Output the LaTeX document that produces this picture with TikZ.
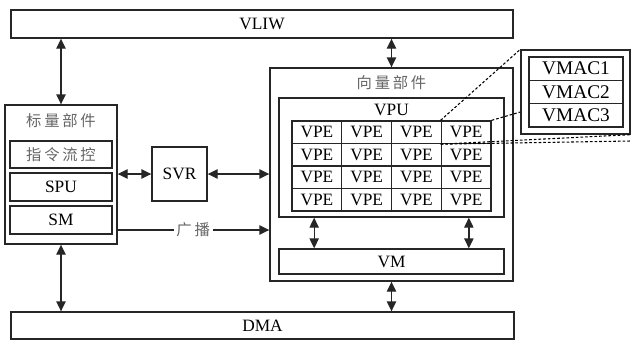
\documentclass[tikz,border=0pt]{standalone}
\usepackage{fontspec}
\setmainfont{Liberation Serif}
\newfontfamily\cjk[LetterSpace=18]{Noto Sans CJK SC}
\usetikzlibrary{arrows.meta}

\tikzset{
  blk/.style={draw=black!85, line width=1pt, inner sep=0pt,
    font={\fontsize{13}{15}\selectfont}},
  cnlabel/.style={text=black!60, inner sep=1pt,
    font={\cjk\fontsize{11.5}{13}\selectfont}},
  link/.style={{Triangle[length=7.5pt,width=7pt]}-{Triangle[length=7.5pt,width=7pt]},
    line width=1pt, draw=black!85},
  onelink/.style={-{Triangle[length=7.5pt,width=7pt]}, line width=1pt, draw=black!85},
  zoomline/.style={dash pattern=on 2pt off 1.5pt, line width=0.8pt}
}

\begin{document}
\begin{tikzpicture}[x=0.75pt, y=-0.75pt]

\useasboundingbox (0,0) rectangle (631,340);

% top and bottom bars
\node [blk, minimum width=376.5pt, minimum height=21pt] (vliw) at (262,24) {VLIW};
\node [blk, minimum width=377.25pt, minimum height=20.25pt] (dma) at (262.5,325.5) {DMA};

% scalar unit
\node [blk, minimum width=84pt, minimum height=104.25pt] (scalar) at (61,174.5) {};
\node [cnlabel] (scalar-title) at (61,121) {标量部件};
\node [blk, minimum width=76.5pt, minimum height=20.25pt, text=black!60,
font={\cjk\fontsize{11.5}{13}\selectfont}] (ctrl) at (61,154.5) {指令流控};
\node [blk, minimum width=76.5pt, minimum height=21pt] (spu) at (61,187) {SPU};
\node [blk, minimum width=76.5pt, minimum height=21pt] (sm) at (61,220) {SM};

\node [blk, minimum width=41.25pt, minimum height=40.5pt] (svr) at (179.5,174) {SVR};

% vector unit
\node [blk, minimum width=182.25pt, minimum height=159.75pt] (vector) at (391.5,174.5) {};
\node [cnlabel] (vector-title) at (391.5,83) {向量部件};
\node [blk, minimum width=168.75pt, minimum height=89.25pt] (vpu) at (391.5,157.5) {};
\node [inner sep=0pt, font={\fontsize{13}{15}\selectfont}] (vpu-title) at (391.5,110) {VPU};

\foreach \r in {1,...,4}
  \foreach \c in {1,...,4}
    \node [blk, minimum width=37.3pt, minimum height=16.9pt] (c-\r-\c)
      at ({292+49.75*(\c-0.5)},{121+22.5*(\r-0.5)}) {VPE};

\node [blk, minimum width=168.75pt, minimum height=18.75pt] (vm) at (391.5,261.5) {VM};

% zoomed VPE
\node [blk, minimum width=81.75pt, minimum height=63pt] (vmac) at (575.5,92) {};
\foreach \k in {1,2,3}
  \node [blk, minimum width=70.5pt, minimum height=17.5pt,
  font={\fontsize{14.5}{16}\selectfont}] (vmac-\k) at (576,{57+23.33*(\k-0.5)}) {VMAC\k};

\coordinate (cut) at (631,141);
\coordinate (bcast) at (117,230);

% connections
\draw [link] (vliw.south -| scalar.north) -- (scalar.north);
\draw [link] (vliw.south -| vector.north) -- (vector.north);
\draw [link] (scalar.south) -- (scalar.south |- dma.north);
\draw [link] (vector.south) -- (vector.south |- dma.north);
\draw [link] (scalar.east |- svr.west) -- (svr.west);
\draw [link] (svr.east) -- (svr.east -| vector.west);
\draw [onelink]
  (bcast) -- node [cnlabel, fill=white, inner sep=2pt] (bcast-label) {广播} (bcast -| vector.west);
\draw [link] ([xshift=-58pt]vpu.south) -- ([xshift=-58pt]vm.north);
\draw [link] ([xshift=58pt]vpu.south) -- ([xshift=58pt]vm.north);

\draw [zoomline] (c-1-4.north west) -- (vmac.north west);
\draw [zoomline] (c-1-4.north east) -- ([yshift=-15pt]vmac.west);
\draw [zoomline] (c-1-4.south west) -- (vmac.south east);
\draw [zoomline] (c-1-4.south west) -- (cut);

\end{tikzpicture}
\end{document}
